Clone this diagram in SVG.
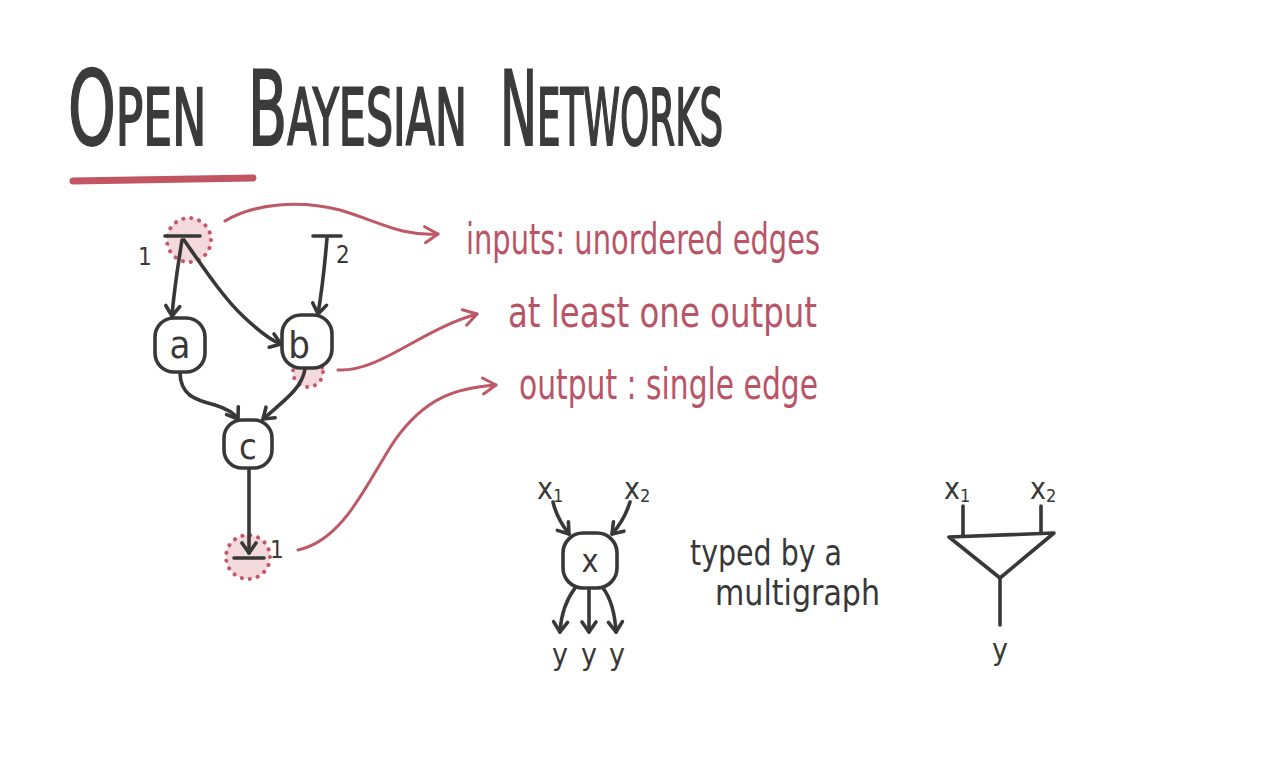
<svg xmlns="http://www.w3.org/2000/svg" width="1280" height="777" viewBox="0 0 1280 777">
<style>
.ink{fill:none;stroke:#383838;stroke-width:3.6;stroke-linecap:round;stroke-linejoin:round}
.red{fill:none;stroke:#bd5966;stroke-width:3;stroke-linecap:round;stroke-linejoin:round}
.hl{fill:#f4d9dc;stroke:#c4566a;stroke-width:4;stroke-dasharray:0.1 8;stroke-linecap:round}
.node{fill:#fff;stroke:#383838;stroke-width:3.6}
.lbl{font-family:"DejaVu Sans Condensed","Liberation Sans",sans-serif;fill:#383838}
.rt{font-family:"DejaVu Sans Condensed","Liberation Sans",sans-serif;fill:#b95466}
.title{font-family:"DejaVu Sans Condensed","Liberation Sans",sans-serif;fill:#3b3b3b;stroke:#3b3b3b;stroke-width:2}
</style>
<defs>
<marker id="ah" markerUnits="userSpaceOnUse" markerWidth="30" markerHeight="30" refX="0" refY="0" viewBox="-15 -15 30 30" orient="auto">
<path d="M-10,-7 L0,0 L-10,7" fill="none" stroke="#383838" stroke-width="3.6" stroke-linecap="round" stroke-linejoin="round"/>
</marker>
<marker id="rh" markerUnits="userSpaceOnUse" markerWidth="34" markerHeight="34" refX="0" refY="0" viewBox="-17 -17 34 34" orient="auto">
<path d="M-13,-8 L0,0 L-13,8" fill="none" stroke="#bd5966" stroke-width="3" stroke-linecap="round" stroke-linejoin="round"/>
</marker>
</defs>
<rect width="1280" height="777" fill="#ffffff"/>

<g id="title">
<text class="title" transform="translate(68,145) scale(0.65,1)"><tspan font-size="104">O</tspan><tspan font-size="78">PEN</tspan></text>
<text class="title" transform="translate(248,145) scale(0.61,1)"><tspan font-size="104">B</tspan><tspan font-size="78">AYESIAN</tspan></text>
<text class="title" transform="translate(500,145) scale(0.53,1)"><tspan font-size="104">N</tspan><tspan font-size="78">ETWORKS</tspan></text>
<path d="M73,181 L253,178" fill="none" stroke="#c25562" stroke-width="7" stroke-linecap="round"/>
</g>

<g id="highlights">
<circle class="hl" cx="189" cy="240" r="22"/>
<circle class="hl" cx="308" cy="372" r="15"/>
<circle class="hl" cx="248" cy="557" r="22"/>
</g>

<g id="connectors">
<path class="ink" d="M182,240 C178,265 174,290 172,316" marker-end="url(#ah)"/>
<path class="ink" d="M184,240 C205,270 225,300 245,318 C260,332 270,340 281,344" marker-end="url(#ah)"/>
<path class="ink" d="M327,238 C325,262 322,290 318,314" marker-end="url(#ah)"/>
<path class="ink" d="M180,372 C180,395 195,400 215,405 C228,409 234,413 238,419" marker-end="url(#ah)"/>
<path class="ink" d="M305,369 C302,388 285,400 263,419" marker-end="url(#ah)"/>
<path class="ink" d="M249,468 L249,553" marker-end="url(#ah)"/>
<path class="red" d="M225,221 C255,203 300,200 340,210 C380,222 400,236 438,234" marker-end="url(#rh)"/>
<path class="red" d="M338,370 C380,372 420,330 477,314" marker-end="url(#rh)"/>
<path class="red" d="M298,550 C345,540 368,480 395,440 C425,398 455,388 496,385" marker-end="url(#rh)"/>
<path class="ink" d="M553,502 C556,515 562,525 569,534" marker-end="url(#ah)"/>
<path class="ink" d="M630,502 C626,515 620,525 612,534" marker-end="url(#ah)"/>
<path class="ink" d="M575,588 C566,600 561,615 560,632" marker-end="url(#ah)"/>
<path class="ink" d="M589,590 L589,632" marker-end="url(#ah)"/>
<path class="ink" d="M603,588 C612,600 615,615 616,632" marker-end="url(#ah)"/>
</g>

<g id="input1">
<path class="ink" d="M165,236 L200,236"/>
<text class="lbl" x="138" y="265" font-size="24">1</text>
</g>
<g id="input2">
<path class="ink" d="M313,236 L341,236"/>
<text class="lbl" x="336" y="263" font-size="24">2</text>
</g>
<g id="node-a">
<rect class="node" x="155" y="318" width="50" height="54" rx="19"/>
<text class="lbl" x="180" y="358" font-size="38" text-anchor="middle">a</text>
</g>
<g id="node-b">
<rect class="node" x="282" y="315" width="50" height="53" rx="19"/>
<text class="lbl" x="299" y="358" font-size="38" text-anchor="middle">b</text>
</g>
<g id="node-c">
<rect class="node" x="224" y="420" width="48" height="48" rx="18"/>
<text class="lbl" x="248" y="459" font-size="36" text-anchor="middle">c</text>
</g>
<g id="output1">
<path class="ink" d="M234,558 L264,558"/>
<text class="lbl" x="270" y="558" font-size="24">1</text>
</g>

<g id="annotations">
<text class="rt" x="466" y="254" font-size="42" textLength="354" lengthAdjust="spacingAndGlyphs">inputs: unordered edges</text>
<text class="rt" x="508" y="327" font-size="42" textLength="309" lengthAdjust="spacingAndGlyphs">at least one output</text>
<text class="rt" x="519" y="399" font-size="42" textLength="299" lengthAdjust="spacingAndGlyphs">output : single edge</text>
</g>

<g id="mg-x1"><text class="lbl" x="537" y="499" font-size="30">x<tspan font-size="18" dy="3">1</tspan></text></g>
<g id="mg-x2"><text class="lbl" x="624" y="499" font-size="30">x<tspan font-size="18" dy="3">2</tspan></text></g>
<g id="node-x">
<rect class="node" x="563" y="533" width="54" height="55" rx="20"/>
<text class="lbl" x="590" y="572" font-size="32" text-anchor="middle">x</text>
</g>
<g id="mg-y">
<text class="lbl" x="560" y="665" font-size="30" text-anchor="middle">y</text>
<text class="lbl" x="589" y="665" font-size="30" text-anchor="middle">y</text>
<text class="lbl" x="617" y="665" font-size="30" text-anchor="middle">y</text>
</g>
<g id="typed">
<text class="lbl" x="690" y="565" font-size="36" textLength="152" lengthAdjust="spacingAndGlyphs">typed by a</text>
<text class="lbl" x="715" y="605" font-size="36" textLength="165" lengthAdjust="spacingAndGlyphs">multigraph</text>
</g>

<g id="gate">
<text class="lbl" x="944" y="499" font-size="30">x<tspan font-size="18" dy="3">1</tspan></text>
<text class="lbl" x="1030" y="499" font-size="30">x<tspan font-size="18" dy="3">2</tspan></text>
<path class="ink" d="M963,506 L963,536 M1041,506 L1041,533"/>
<path class="ink" d="M949,537 L1054,533 L1000,578 Z"/>
<path class="ink" d="M1000,578 L1000,625"/>
<text class="lbl" x="1000" y="660" font-size="30" text-anchor="middle">y</text>
</g>
</svg>
